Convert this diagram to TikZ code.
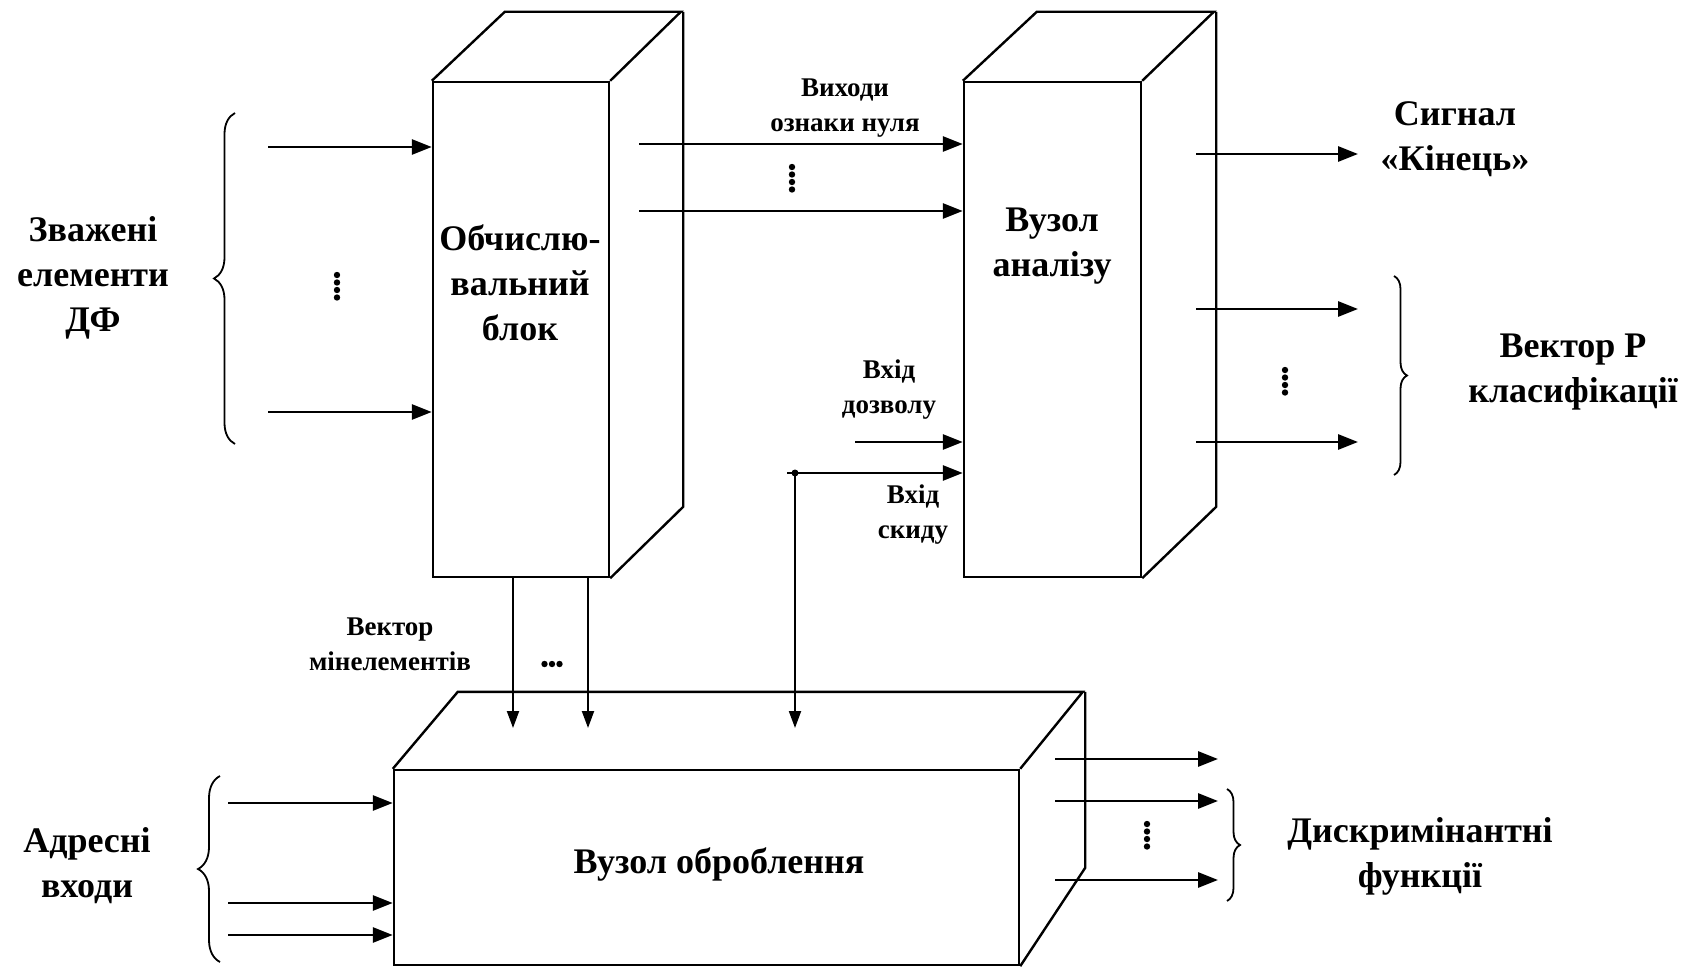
\documentclass[tikz,border=0pt]{standalone}
\usepackage{fontspec}
\setmainfont{Liberation Serif}
\usetikzlibrary{arrows.meta,decorations.pathreplacing}

\tikzset{
  face/.style={draw, line width=2.4pt, inner sep=0pt},
  edge/.style={line width=2.4pt},
  arr/.style={line width=2.8pt, -{Triangle[length=20pt,width=15pt]}},
  wire/.style={line width=2pt, -{Triangle[length=17pt,width=12pt]}},
  big/.style={font=\fontsize{36}{45}\selectfont\bfseries, align=center, inner sep=0pt},
  small/.style={font=\fontsize{27}{35}\selectfont\bfseries, align=center, inner sep=0pt},
  brc/.style={decorate, decoration={brace, amplitude=#1}, line width=1.8pt}
}

\begin{document}
\begin{tikzpicture}[x=1pt, y=-1pt]
\useasboundingbox (0,0) rectangle (1693,968);
% blocks
\node[face, minimum width=176pt, minimum height=495pt] (calc) at (521,329.5) {};
\draw[edge] (calc.north west) -- ++(73,-69) -- ++(176,0) -- (calc.north east)
  (calc.north east) ++(73,-69) -- ++(0,495) -- (calc.south east);
\node[face, minimum width=177pt, minimum height=495pt] (ana) at (1052.5,329.5) {};
\draw[edge] (ana.north west) -- ++(74,-69) -- ++(177,0) -- (ana.north east)
  (ana.north east) ++(74,-69) -- ++(0,495) -- (ana.south east);
\node[face, minimum width=625pt, minimum height=195pt] (proc) at (706.5,867.5) {};
\draw[edge] (proc.north west) -- ++(65,-77) -- ++(625,0) -- (proc.north east)
  (proc.north east) ++(65,-77) -- ++(0,176) -- (proc.south east);
\coordinate (ptop) at (706,728);

% texts
\node[big] (wlbl) at (93,278) {Зважені\\елементи\\ДФ};
\node[big] (calclbl) at (520,283) {Обчислю-\\вальний\\блок};
\node[big] (analbl) at (1052,246) {Вузол\\аналізу};
\node[big] (endlbl) at (1455,139) {Сигнал\\«Кінець»};
\node[big] (plbl) at (1573,372) {Вектор P\\класифікації};
\node[big] (albl) at (87,866) {Адресні\\входи};
\node[big] (proclbl) at (719,864) {Вузол оброблення};
\node[big] (dflbl) at (1420,856) {Дискримінантні\\функції};
\node[small] (zlbl) at (845,108) {Виходи\\ознаки нуля};
\node[small] (enlbl) at (889,390) {Вхід\\дозволу};
\node[small] (rlbl) at (913,515) {Вхід\\скиду};
\node[small] (mlbl) at (390,644) {Вектор\\мінелементів};

% inputs of the computing block
\coordinate (w1) at (268,147);
\coordinate (w2) at (268,412);
\draw[arr] (w1) -- (w1 -| calc.west);
\draw[arr] (w2) -- (w2 -| calc.west);
\draw[brc=21pt] (235,444) -- (235,113);
\foreach \k in {0,...,3} \fill (337,275+\k*7.5) circle (3.2pt);

% zero flags
\coordinate (z1) at (639,144);
\coordinate (z2) at (639,211);
\draw[arr] (z1) -- (z1 -| ana.west);
\draw[arr] (z2) -- (z2 -| ana.west);
\foreach \k in {0,...,3} \fill (792,167+\k*7.5) circle (3.2pt);

% enable and reset
\coordinate (en) at (855,442);
\coordinate (r0) at (787,473);
\coordinate (rj) at (795,473);
\draw[arr] (en) -- (en -| ana.west);
\draw[arr] (r0) -- (r0 -| ana.west);
\fill (rj) circle (3.5pt);
\draw[wire] (rj) -- (rj |- ptop);

% min elements
\coordinate (m1) at (513,0);
\coordinate (m2) at (588,0);
\draw[wire] (m1 |- calc.south) -- (m1 |- ptop);
\draw[wire] (m2 |- calc.south) -- (m2 |- ptop);
\foreach \k in {-1,0,1} \fill (552+\k*7.5,664) circle (3.2pt);

% outputs of the analysis node
\coordinate (k1) at (1196,154);
\coordinate (k1e) at (1358,154);
\coordinate (p1) at (1196,309);
\coordinate (p1e) at (1358,309);
\coordinate (p2) at (1196,442);
\coordinate (p2e) at (1358,442);
\draw[arr] (k1) -- (k1e);
\draw[arr] (p1) -- (p1e);
\draw[arr] (p2) -- (p2e);
\foreach \k in {0,...,3} \fill (1285,370+\k*7.5) circle (3.2pt);
\draw[brc=13pt] (1394,276) -- (1394,475);

% address inputs
\coordinate (a1) at (228,803);
\coordinate (a2) at (228,903);
\coordinate (a3) at (228,935);
\draw[arr] (a1) -- (a1 -| proc.west);
\draw[arr] (a2) -- (a2 -| proc.west);
\draw[arr] (a3) -- (a3 -| proc.west);
\draw[brc=22pt] (220,962) -- (220,776);

% discriminant functions
\coordinate (d1) at (1055,759);
\coordinate (d1e) at (1218,759);
\coordinate (d2) at (1055,801);
\coordinate (d2e) at (1218,801);
\coordinate (d3) at (1055,880);
\coordinate (d3e) at (1218,880);
\draw[arr] (d1) -- (d1e);
\draw[arr] (d2) -- (d2e);
\draw[arr] (d3) -- (d3e);
\foreach \k in {0,...,3} \fill (1147,824+\k*7.5) circle (3.2pt);
\draw[brc=13pt] (1227,789) -- (1227,901);
\end{tikzpicture}
\end{document}
